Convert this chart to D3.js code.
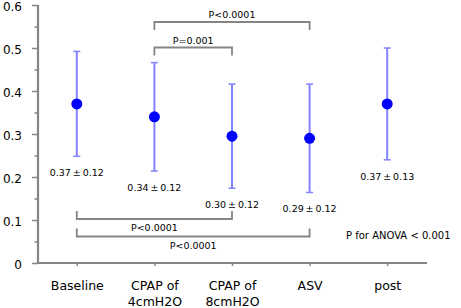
<!DOCTYPE html>
<html>
<head>
<meta charset="utf-8">
<script src="https://cdn.jsdelivr.net/npm/d3@7"></script>
<style>
    body { margin: 0; background: #fff; }
    text { font-family: "DejaVu Sans", sans-serif; fill: #000; }
</style>
</head>
<body>
<script>
// chart data
const categories = ['Baseline', 'CPAP of\n4cmH2O', 'CPAP of\n8cmH2O', 'ASV', 'post'];
const means = [0.37, 0.34, 0.295, 0.29, 0.37];
const errors = [0.122, 0.126, 0.121, 0.126, 0.13];
const valueLabels = ['0.37\u2009±\u20090.12', '0.34\u2009±\u20090.12', '0.30\u2009±\u20090.12', '0.29\u2009±\u20090.12', '0.37\u2009±\u20090.13'];
const yTicks = [0, 0.1, 0.2, 0.3, 0.4, 0.5, 0.6];
const yTickLabels = ['0', '0.1', '0.2', '0.3', '0.4', '0.5', '0.6'];
const yMinorTicks = [0.05, 0.15, 0.25, 0.35, 0.45, 0.55];

// significance brackets: pair of categories (index) and p value text
const topBrackets = [
    {from: 1, to: 3, text: 'P<0.0001'},
    {from: 1, to: 2, text: 'P=0.001'}
];
const bottomBrackets = [
    {from: 0, to: 2, text: 'P<0.0001'},
    {from: 0, to: 3, text: 'P<0.0001'}
];
const anovaText = 'P for ANOVA  < 0.001';

drawChart();

function drawChart()
{
    const svgWidth = 461;
    const svgHeight = 308;
    const axisColor = '#858585';

    const svg = d3.select('body')
        .append('svg')
        .attr('width', svgWidth)
        .attr('height', svgHeight);

    const x = d3.scalePoint()
        .domain(d3.range(categories.length))
        .range([38, 426])
        .padding(0.5);

    const y = d3.scaleLinear()
        .domain([0, 0.6])
        .range([263, 5]);

    // y axis with major and minor ticks
    const yAxis = svg.append('g')
        .attr('transform', 'translate(38,0)')
        .call(d3.axisLeft(y)
            .tickValues(yTicks)
            .tickSize(6)
            .tickPadding(10)
            .tickFormat((d, i) => yTickLabels[i]));

    svg.append('g')
        .attr('transform', 'translate(38,0)')
        .call(d3.axisLeft(y).tickValues(yMinorTicks).tickSize(3.5).tickFormat(''))
        .call(g => g.select('.domain').remove())
        .selectAll('line')
        .attr('stroke', axisColor)
        .attr('stroke-width', 1.5);

    yAxis.select('.domain')
        .attr('stroke', axisColor)
        .attr('stroke-width', 2.2)
        .attr('d', `M0,${y(0)}V${y(0.6)}`);
    yAxis.selectAll('.tick line')
        .attr('stroke', axisColor)
        .attr('stroke-width', 1.5);
    yAxis.selectAll('.tick text')
        .attr('font-size', 12)
        .attr('dy', '0.42em');

    // x axis
    const xAxis = svg.append('g')
        .attr('transform', `translate(0,${y(0)})`)
        .call(d3.axisBottom(x).tickSize(3).tickFormat(''));

    xAxis.select('.domain')
        .attr('stroke', axisColor)
        .attr('stroke-width', 2.2)
        .attr('d', 'M38,0H427');
    xAxis.selectAll('.tick line')
        .attr('stroke', axisColor)
        .attr('stroke-width', 1.5);

    xAxis.selectAll('.tick')
        .append('text')
        .attr('font-size', 12.5)
        .attr('text-anchor', 'middle')
        .attr('y', 27)
        .selectAll('tspan')
        .data(i => categories[i].split('\n'))
        .join('tspan')
        .attr('x', 0)
        .attr('dy', (d, j) => j === 0 ? 0 : 16)
        .text(d => d);

    // error bars
    const bars = svg.append('g')
        .attr('stroke', '#8282ff')
        .selectAll('g')
        .data(means)
        .join('g');

    bars.append('line')
        .attr('x1', (d, i) => x(i))
        .attr('x2', (d, i) => x(i))
        .attr('y1', (d, i) => y(d + errors[i]))
        .attr('y2', (d, i) => y(d - errors[i]))
        .attr('stroke-width', 2);

    [1, -1].forEach(sign =>
    {
        bars.append('line')
            .attr('x1', (d, i) => x(i) - 3.5)
            .attr('x2', (d, i) => x(i) + 3.5)
            .attr('y1', (d, i) => y(d + sign * errors[i]))
            .attr('y2', (d, i) => y(d + sign * errors[i]))
            .attr('stroke-width', 1.5);
    });

    // mean points
    svg.append('g')
        .selectAll('circle')
        .data(means)
        .join('circle')
        .attr('cx', (d, i) => x(i))
        .attr('cy', d => y(d))
        .attr('r', 5.5)
        .attr('fill', '#0000ff');

    // mean ± sd labels under each bar
    svg.append('g')
        .selectAll('text')
        .data(valueLabels)
        .join('text')
        .attr('x', (d, i) => x(i))
        .attr('y', (d, i) => y(means[i] - errors[i]) + 20)
        .attr('text-anchor', 'middle')
        .attr('font-size', 9.5)
        .text(d => d);

    // brackets above (arms pointing down) and below (arms pointing up)
    drawBrackets(topBrackets, [22, 47.5], 8, -4);
    drawBrackets(bottomBrackets, [219, 236.5], -8, 12);

    function drawBrackets(list, levels, arm, textOffset)
    {
        const g = svg.append('g');
        list.forEach((b, i) =>
        {
            const x1 = x(b.from);
            const x2 = x(b.to);
            const ly = levels[i];
            g.append('path')
                .attr('d', `M${x1},${ly + arm}V${ly}H${x2}V${ly + arm}`)
                .attr('fill', 'none')
                .attr('stroke', axisColor)
                .attr('stroke-width', 1.8);
            g.append('text')
                .attr('x', (x1 + x2) / 2)
                .attr('y', ly + textOffset)
                .attr('text-anchor', 'middle')
                .attr('font-size', 9.5)
                .text(b.text);
        });
    }

    svg.append('text')
        .attr('x', 346)
        .attr('y', 239)
        .attr('font-size', 10)
        .text(anovaText);
}
</script>
</body>
</html>
